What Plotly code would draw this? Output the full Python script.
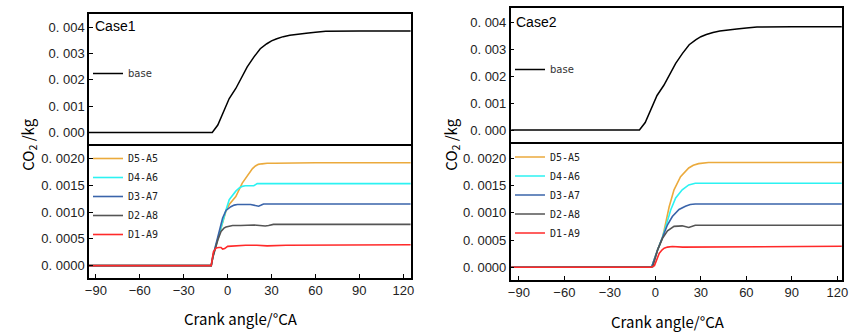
import plotly.graph_objects as go

# ---------------- data ----------------
base_crank = [-95, -10.5, -6.7, -2.3, 1.1, 5.6, 10.1, 13.4, 17.9, 22.3, 26.8, 30, 33.6, 38, 42.5, 48, 53.7, 60, 67, 90, 125]
base_co2 = [0, 0, 0.00028, 0.00084, 0.00129, 0.00167, 0.00217, 0.00249, 0.00286, 0.00318, 0.00337, 0.00348, 0.00356, 0.00364, 0.00369, 0.00374, 0.00377, 0.00381, 0.00384, 0.00385, 0.00385]

series_names = ["D5-A5", "D4-A6", "D3-A7", "D2-A8", "D1-A9"]
series_colors = ["#EBAA3C", "#2CF2F2", "#3A64AA", "#555555", "#FF2A2A"]

# Case 1
c1_crank = {
    "D5-A5": [-95, -11.2, -10, -7, -4.5, -1.1, 1.1, 5.6, 10, 14.5, 17, 19, 21, 23.5, 27, 32.4, 60, 125],
    "D4-A6": [-95, -11.2, -10, -7, -4.5, -1.1, 1.1, 3.5, 5.6, 8, 10, 12, 14.5, 16, 17.9, 20.2, 30, 60, 125],
    "D3-A7": [-95, -11.2, -10, -7, -5.6, -3.4, -1.1, 0.5, 2.2, 4.5, 6.7, 15.7, 19, 21.2, 23, 24.6, 40, 125],
    "D2-A8": [-95, -11.2, -10, -6.7, -4.5, -2.5, -1.1, 1, 3.4, 8.9, 17.9, 22, 25.7, 28, 31.3, 60, 125],
    "D1-A9": [-95, -11.2, -9.7, -7.9, -6, -4.5, -3.4, -2, 0, 4, 12.3, 20, 27, 40, 125],
}
c1_co2 = {
    "D5-A5": [0, 0, 0.00018, 0.00048, 0.00072, 0.00102, 0.00114, 0.00129, 0.00154, 0.00173, 0.00181, 0.00186, 0.00189, 0.0019, 0.00191, 0.00191, 0.00192, 0.00192],
    "D4-A6": [0, 0, 0.00018, 0.00048, 0.00075, 0.00104, 0.00123, 0.00132, 0.00139, 0.00145, 0.00148, 0.00149, 0.00149, 0.00148, 0.00149, 0.00153, 0.00153, 0.00153, 0.00153],
    "D3-A7": [0, 0, 0.00018, 0.00048, 0.00067, 0.00089, 0.00103, 0.00107, 0.0011, 0.00113, 0.00114, 0.00114, 0.00113, 0.00111, 0.00113, 0.00115, 0.00115, 0.00115],
    "D2-A8": [0, 0, 0.00016, 0.00048, 0.00064, 0.0007, 0.00072, 0.00074, 0.00075, 0.00075, 0.00076, 0.00075, 0.00074, 0.00075, 0.00077, 0.00077, 0.00077],
    "D1-A9": [0, 0, 0.00026, 0.00033, 0.00034, 0.00034, 0.00031, 0.00032, 0.00036, 0.00037, 0.00038, 0.00038, 0.00037, 0.00038, 0.00039],
}

# Case 2
c2_crank = {
    "D5-A5": [-95, -2.5, 1.5, 4.7, 5.8, 9.1, 12.3, 16.6, 22, 25, 28.5, 35, 60, 125],
    "D4-A6": [-95, -2.5, 1.5, 4.7, 6.9, 10.1, 13.4, 17.7, 22, 26.3, 40, 125],
    "D3-A7": [-95, -2.5, 1.5, 4.7, 8, 11.2, 15.6, 19.8, 23, 26.3, 40, 125],
    "D2-A8": [-95, -2.5, -1.7, 1.5, 4.7, 8, 12.3, 17.7, 22, 26.3, 40, 125],
    "D1-A9": [-95, -2.8, -0.6, 2.6, 4.5, 5.8, 8, 11.2, 18, 25.3, 35, 125],
}
c2_co2 = {
    "D5-A5": [0, 0, 0.00032, 0.00055, 0.00068, 0.00111, 0.00142, 0.00166, 0.00182, 0.00187, 0.0019, 0.00192, 0.00192, 0.00192],
    "D4-A6": [0, 0, 0.00032, 0.00055, 0.00075, 0.00105, 0.00127, 0.00142, 0.00151, 0.00154, 0.00154, 0.00154],
    "D3-A7": [0, 0, 0.00032, 0.00055, 0.00078, 0.00093, 0.00106, 0.00112, 0.00115, 0.00116, 0.00116, 0.00116],
    "D2-A8": [0, 0, 0.00001, 0.00032, 0.00053, 0.00067, 0.00075, 0.00076, 0.00073, 0.00077, 0.00077, 0.00077],
    "D1-A9": [0, 0, 0.00003, 0.00026, 0.00032, 0.00035, 0.00037, 0.00038, 0.00037, 0.00037, 0.00038, 0.000385],
}

top_ticks = [0, 0.001, 0.002, 0.003, 0.004]
top_ticktext = ["0. 000", "0. 001", "0. 002", "0. 003", "0. 004"]
bot_ticks = [0, 0.0005, 0.001, 0.0015, 0.002]
bot_ticktext = ["0. 0000", "0. 0005", "0. 0010", "0. 0015", "0. 0020"]
x_ticks = [-90, -60, -30, 0, 30, 60, 90, 120]
x_ticktext = ["\u221290", "\u221260", "\u221230", "0", "30", "60", "90", "120"]

case_labels = ["Case1", "Case2"]
x_title = "Crank angle/°CA"
y_title = "CO<sub>2</sub> /kg"

# ---------------- figure ----------------
W, H = 852, 333
def px(x): return x / W
def py(y): return 1 - y / H

fig = go.Figure()

fig.add_trace(go.Scatter(x=base_crank, y=base_co2, mode="lines", name="base",
                         line=dict(color="black", width=1.5), xaxis="x", yaxis="y", legend="legend"))
for nm, col in zip(series_names, series_colors):
    fig.add_trace(go.Scatter(x=c1_crank[nm], y=c1_co2[nm], mode="lines", name=nm,
                             line=dict(color=col, width=1.6),
                             xaxis="x2", yaxis="y2", legend="legend2"))
fig.add_trace(go.Scatter(x=base_crank, y=base_co2, mode="lines", name="base",
                         line=dict(color="black", width=1.5), xaxis="x3", yaxis="y3", legend="legend3"))
for nm, col in zip(series_names, series_colors):
    fig.add_trace(go.Scatter(x=c2_crank[nm], y=c2_co2[nm], mode="lines", name=nm,
                             line=dict(color=col, width=1.6),
                             xaxis="x4", yaxis="y4", legend="legend4"))

tickfont = dict(family="Liberation Sans, Arial", size=13, color="#222")
axcommon = dict(showline=True, mirror=True, linecolor="black", linewidth=1.5,
                showgrid=False, zeroline=False, ticks="inside", ticklen=4,
                tickwidth=1.2, tickcolor="black", tickfont=tickfont)

L = dict(x0=px(86), x1=px(412), top=(py(14), py(145.6)), bot=(py(145.6), py(278)),
         xr=[-94.7, 125.4], yrt=[-0.0005, 0.0045], yrb=[-0.00023, 0.00224])
R = dict(x0=px(512.7), x1=px(847.7), top=(py(8.3), py(144)), bot=(py(144), py(280)),
         xr=[-95.4, 122.9], yrt=[-0.00052, 0.00454], yrb=[-0.000233, 0.00226])

layout = dict(width=W, height=H, margin=dict(l=0, r=0, t=0, b=0),
              paper_bgcolor="white", plot_bgcolor="white", showlegend=True)

for i, P in enumerate([L, R]):
    n = 2 * i
    xt, yt, xb, yb = f"xaxis{n+1 if n else ''}", f"yaxis{n+1 if n else ''}", f"xaxis{n+2}", f"yaxis{n+2}"
    ya_t, ya_b = f"y{n+1 if n else ''}", f"y{n+2}"
    # top panel: x-axis line only on top side (the divider comes from the bottom panel)
    layout[xt] = dict(axcommon, domain=[P["x0"], P["x1"]], range=P["xr"], anchor=ya_t,
                      side="top", mirror=False, showticklabels=False, ticks="", tickvals=x_ticks)
    layout[yt] = dict(axcommon, domain=[P["top"][1], P["top"][0]], range=P["yrt"],
                      anchor=f"x{n+1 if n else ''}", tickvals=top_ticks, ticktext=top_ticktext)
    layout[xb] = dict(axcommon, domain=[P["x0"], P["x1"]], range=P["xr"], anchor=ya_b,
                      tickvals=x_ticks, ticktext=x_ticktext)
    layout[yb] = dict(axcommon, domain=[P["bot"][1], P["bot"][0]], range=P["yrb"],
                      anchor=f"x{n+2}", tickvals=bot_ticks, ticktext=bot_ticktext)

legfont_base = dict(family="DejaVu Sans, Arial", size=10, color="#333")
legfont_mono = dict(family="DejaVu Sans Mono, monospace", size=10, color="#222")
leg = dict(bgcolor="rgba(0,0,0,0)", borderwidth=0, xanchor="left", yanchor="top",
           itemwidth=30, tracegroupgap=0)
layout["legend"] = dict(leg, x=px(85), y=py(59), font=legfont_base)
layout["legend2"] = dict(leg, x=px(85), y=py(144), font=legfont_mono)
layout["legend3"] = dict(leg, x=px(512), y=py(55), font=legfont_base)
layout["legend4"] = dict(leg, x=px(512), y=py(142.5), font=legfont_mono)

anns = []
for lab, (xx, yy) in zip(case_labels, [(90, 26), (516, 22)]):
    anns.append(dict(text=lab, x=px(xx), y=py(yy), xref="paper", yref="paper",
                     xanchor="left", yanchor="middle", showarrow=False,
                     font=dict(family="Liberation Sans, Arial", size=14, color="black")))
for xx, yy in [(240, 318), (672, 321)]:
    anns.append(dict(text=x_title, x=px(xx), y=py(yy), xref="paper", yref="paper",
                     xanchor="center", yanchor="middle", showarrow=False,
                     font=dict(family="Noto Sans CJK SC, Noto Sans", size=15, color="black")))
for xx, yy in [(24, 145), (452, 145)]:
    anns.append(dict(text=y_title, x=px(xx), y=py(yy), xref="paper", yref="paper",
                     xanchor="center", yanchor="middle", showarrow=False, textangle=-90,
                     font=dict(family="Noto Sans CJK SC, Noto Sans", size=15, color="black")))
layout["annotations"] = anns

fig.update_layout(**layout)
fig.write_html("out.html")
